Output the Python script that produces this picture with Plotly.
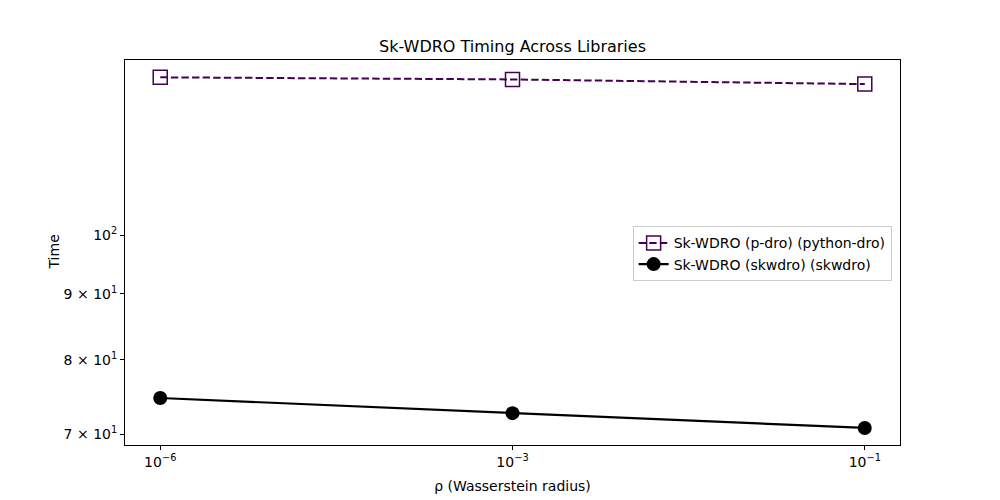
import plotly.graph_objects as go

# Data
rho_labels = ["1e-06", "0.001", "0.1"]
rho_ticktext = ["10<sup>−6</sup>", "10<sup>−3</sup>", "10<sup>−1</sup>"]
pdro_times = [132.6, 132.1, 131.0]
skwdro_times = [74.7, 72.7, 70.8]
y_tickvals = [70, 80, 90, 100]
y_ticktext = ["7 × 10<sup>1</sup>", "8 × 10<sup>1</sup>", "9 × 10<sup>1</sup>", "10<sup>2</sup>"]

purple = "#440154"
font_family = "DejaVu Sans, sans-serif"

fig = go.Figure()
fig.add_trace(go.Scatter(
    x=rho_labels, y=pdro_times, mode="lines+markers",
    name="Sk-WDRO (p-dro) (python-dro)",
    line=dict(color=purple, width=2, dash="7.4px,3.2px"),
    marker=dict(symbol="square-open", size=14, color=purple, line=dict(width=1.5, color=purple)),
))
fig.add_trace(go.Scatter(
    x=rho_labels, y=skwdro_times, mode="lines+markers",
    name="Sk-WDRO (skwdro) (skwdro)",
    line=dict(color="black", width=2.2),
    marker=dict(symbol="circle", size=14, color="black"),
))

axis_common = dict(
    showline=True, linecolor="black", linewidth=1, mirror=True,
    showgrid=False, zeroline=False, automargin=False,
    ticks="outside", ticklen=4, tickwidth=1, tickcolor="black",
    tickfont=dict(family=font_family, size=14, color="black"),
)

fig.update_layout(
    width=1000, height=500,
    paper_bgcolor="white", plot_bgcolor="white",
    margin=dict(l=125, r=100, t=60, b=55),
    title=dict(text="Sk-WDRO Timing Across Libraries", x=0.5125, xanchor="center",
               y=0.908, yanchor="middle",
               font=dict(family=font_family, size=16, color="black")),
    font=dict(family=font_family, size=14, color="black"),
    xaxis=dict(type="category", range=[-0.1, 2.1], tickvals=rho_labels, ticktext=rho_ticktext,
               title=dict(text="ρ (Wasserstein radius)", standoff=12,
                          font=dict(family=font_family, size=14, color="black")),
               **axis_common),
    yaxis=dict(type="log", range=[1.8368, 2.1360], tickvals=y_tickvals, ticktext=y_ticktext,
               **axis_common),
    legend=dict(x=0.655, y=0.568, xanchor="left", yanchor="top",
                bgcolor="rgba(255,255,255,0.8)", bordercolor="#cccccc", borderwidth=1,
                font=dict(family=font_family, size=14, color="black"),
                itemwidth=30, tracegroupgap=0),
    showlegend=True,
    annotations=[dict(text="Time", xref="paper", yref="paper", x=-0.0929, y=0.5,
                      xanchor="center", yanchor="middle", textangle=-90, showarrow=False,
                      font=dict(family=font_family, size=14, color="black"))],
)

fig.write_html("out.html")
